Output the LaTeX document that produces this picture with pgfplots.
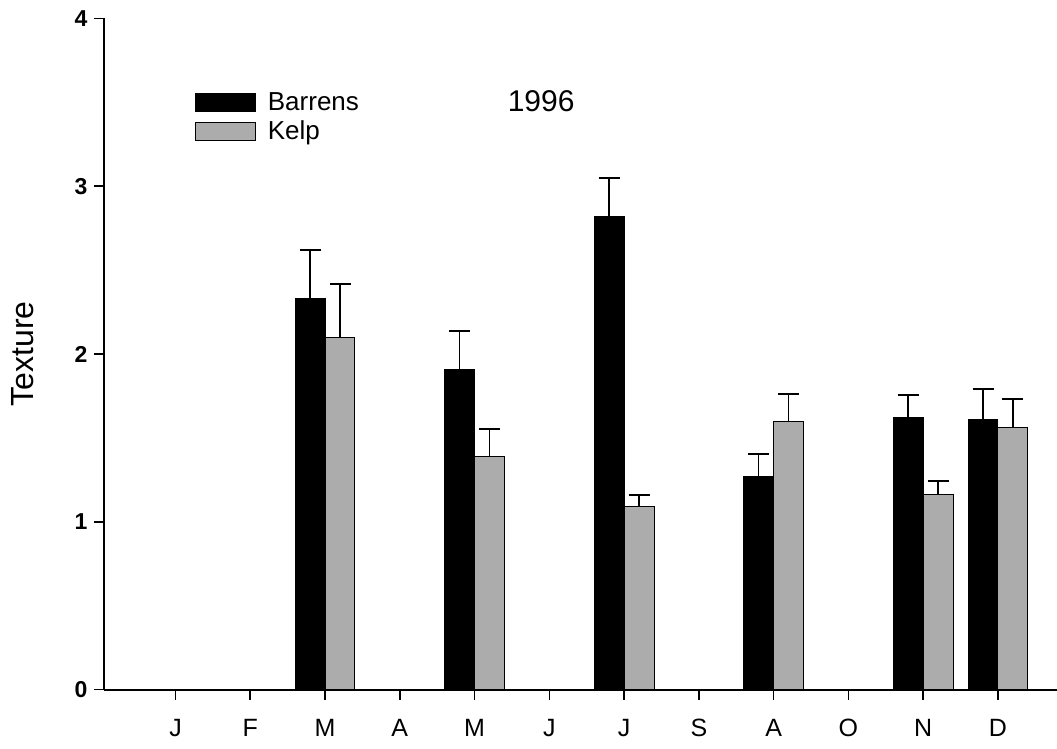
\documentclass[border=0pt]{standalone}
\usepackage{fontspec}
\setmainfont{Liberation Sans}
\usepackage{pgfplots}
\pgfplotsset{compat=1.18}

\definecolor{kelpgray}{RGB}{172,172,172}

\pgfplotsset{
  sebar/.style={draw=none, mark=none, forget plot,
    error bars/.cd, y dir=plus, y explicit, error mark=-,
    error bar style={draw=black, line width=0.75pt},
    error mark options={draw=black, line width=1pt, mark size=5.25pt, rotate=90}},
}

\begin{document}
\begin{tikzpicture}
\begin{axis}[
  scale only axis,
  width=476.25pt, height=335.5pt,
  xmin=0.05, xmax=12.79, ymin=0, ymax=4,
  axis lines=left,
  axis line style={-, line width=1pt},
  xtick={1,...,12},
  xticklabels={J,F,M,A,M,J,J,S,A,O,N,D},
  ytick={0,1,2,3,4},
  tick align=outside,
  major tick length=5pt,
  tick style={black, line width=0.8pt},
  xticklabel style={font=\fontsize{12.5}{14}\selectfont, text height=9pt, text depth=0pt, yshift=-6pt},
  yticklabel style={font=\fontsize{11.5}{13}\selectfont\bfseries},
  /pgf/number format/assume math mode=true,
  ylabel={Texture},
  every axis y label/.style={at={(axis description cs:0,0.5)}, xshift=-40.75pt, rotate=90, anchor=center, font=\fontsize{16}{19}\selectfont},
  legend style={at={(axis cs:1.18,3.60)}, anchor=north west, draw=none, fill=none,
    font=\fontsize{13}{15}\selectfont, row sep=1.25pt,
    nodes={inner sep=0.75pt, text height=9.5pt, text depth=2.5pt}},
  legend cell align=left,
]

% bars
\addplot[ybar, bar width=0.4, bar shift=-0.2, fill=black, draw=black, line width=0.5pt,
  /pgfplots/legend image code/.code={\draw[fill=black, draw=black, line width=0.5pt] (0pt,-4pt) rectangle (30pt,5pt);}]
  coordinates {(3,2.33) (5,1.91) (7,2.82) (9,1.27) (11,1.62) (12,1.61)};
\addlegendentry{\hspace{5pt}Barrens}

\addplot[ybar, bar width=0.4, bar shift=0.2, fill=kelpgray, draw=black, line width=0.5pt,
  /pgfplots/legend image code/.code={\draw[fill=kelpgray, draw=black, line width=0.5pt] (0pt,-4pt) rectangle (30pt,5pt);}]
  coordinates {(3,2.10) (5,1.39) (7,1.09) (9,1.60) (11,1.16) (12,1.56)};
\addlegendentry{\hspace{5pt}Kelp}

% upper standard errors, placed over the centre of each bar
\addplot[sebar]
  coordinates {
    (2.8,2.33)  +- (0,0.29)
    (4.8,1.91)  +- (0,0.23)
    (6.8,2.82)  +- (0,0.23)
    (8.8,1.27)  +- (0,0.135)
    (10.8,1.62) +- (0,0.135)
    (11.8,1.61) +- (0,0.18)
  };
\addplot[sebar]
  coordinates {
    (3.2,2.10)  +- (0,0.315)
    (5.2,1.39)  +- (0,0.16)
    (7.2,1.09)  +- (0,0.07)
    (9.2,1.60)  +- (0,0.16)
    (11.2,1.16) +- (0,0.085)
    (12.2,1.56) +- (0,0.17)
  };

\node[font=\fontsize{15}{18}\selectfont] at (axis cs:5.89,3.51) {1996};
\end{axis}
\pgfresetboundingbox
\path[use as bounding box] (current axis.south west) ++(-52.25pt,-29.5pt) rectangle ([yshift=9.25pt]current axis.north east);
\end{tikzpicture}
\end{document}
